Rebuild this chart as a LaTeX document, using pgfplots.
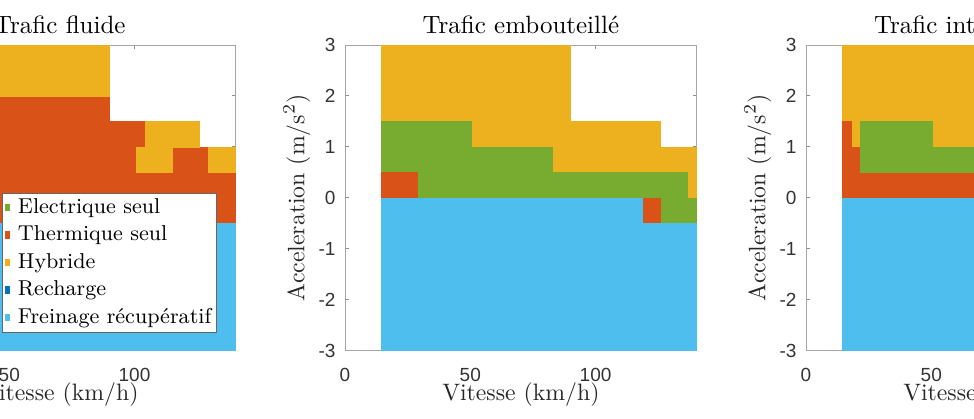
\documentclass[border=0pt]{standalone}
\usepackage{fontspec}
\newfontfamily\tickfont{Liberation Sans}
\usepackage{pgfplots}
\pgfplotsset{compat=1.18}
\definecolor{cGreen}{RGB}{119,172,48}
\definecolor{cRed}{RGB}{217,83,25}
\definecolor{cYellow}{RGB}{237,177,32}
\definecolor{cDBlue}{RGB}{0,114,189}
\definecolor{cLBlue}{RGB}{77,190,238}
\pgfplotsset{
  cell/.style={draw=#1, line width=0.2pt, fill=#1, forget plot},
  mat/.style={
    scale only axis, width=140.7pt, height=122.2pt,
    anchor=south west,
    xmin=0, xmax=140.4, ymin=-3, ymax=3,
    xtick={0,50,100}, ytick={-3,-2,-1,0,1,2,3},
    tick align=inside, major tick length=1.5pt,
    axis line style={black!35, line width=0.4pt},
    every tick/.style={black!45, line width=0.4pt},
    tick label style={font=\tickfont\fontsize{7.6}{9}\selectfont, text=black!80},
    /pgf/number format/assume math mode=true,
    xticklabel style={yshift=-3.4pt},
    yticklabel style={xshift=-0.3pt},
    every axis x label/.style={at={(axis description cs:0.5,-0.1457)}, anchor=center},
    every axis y label/.style={at={(axis description cs:-0.137,0.5)}, anchor=center, rotate=90},
    every axis title/.style={at={(axis description cs:0.5,1)}, anchor=base, yshift=4.8pt},
    label style={font=\fontsize{9.5}{11}\selectfont, text=black!85},
    title style={font=\fontsize{10}{12}\selectfont},
    xlabel={Vitesse (km/h)}, ylabel={Acceleration (m/s$^2$)},
  }
}
\begin{document}
\begin{tikzpicture}
\useasboundingbox (0pt,0pt) rectangle (389.6pt,167.2pt);
\clip (0pt,0pt) rectangle (389.6pt,167.2pt);
% ---------------- Trafic fluide ----------------
\begin{axis}[mat, at={(-46.4pt,27pt)}, title={Trafic fluide},
  legend style={at={(axis description cs:1,0)}, anchor=south east,
    xshift=-7.6pt, yshift=7pt, draw=black!60, line width=0.4pt, fill=white,
    font=\fontsize{8.6}{10}\selectfont, inner sep=1pt, row sep=1.2pt,
    nodes={inner sep=1pt, text height=6pt, text depth=1.8pt}},
  legend cell align=left,
  legend image code/.code={\fill[#1, draw=none] (0.6pt,-1.4pt) rectangle (2.8pt,1.6pt); \path (4.6pt,0pt);}]
\addplot[cell=cRed] coordinates {(14.4,-0.5) (90,-0.5) (90,2) (14.4,2)} --cycle;
\addplot[cell=cRed] coordinates {(90,-0.5) (104.4,-0.5) (104.4,1.5) (90,1.5)} --cycle;
\addplot[cell=cRed] coordinates {(104.4,-0.5) (129.6,-0.5) (129.6,1.0) (104.4,1.0)} --cycle;
\addplot[cell=cRed] coordinates {(129.6,-0.5) (140.4,-0.5) (140.4,0.5) (129.6,0.5)} --cycle;
\addplot[cell=cYellow] coordinates {(14.4,2) (90,2) (90,3) (14.4,3)} --cycle;
\addplot[cell=cYellow] coordinates {(104.4,1.0) (126,1.0) (126,1.5) (104.4,1.5)} --cycle;
\addplot[cell=cYellow] coordinates {(100.8,0.5) (115.2,0.5) (115.2,1.0) (100.8,1.0)} --cycle;
\addplot[cell=cYellow] coordinates {(129.6,0.5) (140.4,0.5) (140.4,1.0) (129.6,1.0)} --cycle;
\addplot[cell=cLBlue] coordinates {(14.4,-3) (140.4,-3) (140.4,-0.5) (14.4,-0.5)} --cycle;
\addlegendimage{fill=cGreen}
\addlegendentry{Electrique seul}
\addlegendimage{fill=cRed}
\addlegendentry{Thermique seul}
\addlegendimage{fill=cYellow}
\addlegendentry{Hybride}
\addlegendimage{fill=cDBlue}
\addlegendentry{Recharge}
\addlegendimage{fill=cLBlue}
\addlegendentry{Freinage récupératif}
\end{axis}
% ---------------- Trafic embouteille ----------------
\begin{axis}[mat, at={(138pt,27pt)}, title={Trafic embouteillé}]
\addplot[cell=cYellow] coordinates {(14.4,0) (90,0) (90,3) (14.4,3)} --cycle;
\addplot[cell=cYellow] coordinates {(90,0) (126,0) (126,1.5) (90,1.5)} --cycle;
\addplot[cell=cYellow] coordinates {(126,0) (140.4,0) (140.4,1.0) (126,1.0)} --cycle;
\addplot[cell=cGreen] coordinates {(14.4,0) (50.4,0) (50.4,1.5) (14.4,1.5)} --cycle;
\addplot[cell=cGreen] coordinates {(50.4,0) (82.8,0) (82.8,1.0) (50.4,1.0)} --cycle;
\addplot[cell=cGreen] coordinates {(82.8,0) (136.8,0) (136.8,0.5) (82.8,0.5)} --cycle;
\addplot[cell=cGreen] coordinates {(126,-0.5) (140.4,-0.5) (140.4,0) (126,0)} --cycle;
\addplot[cell=cRed] coordinates {(14.4,0) (28.8,0) (28.8,0.5) (14.4,0.5)} --cycle;
\addplot[cell=cRed] coordinates {(118.8,-0.5) (126,-0.5) (126,0) (118.8,0)} --cycle;
\addplot[cell=cLBlue] coordinates {(14.4,-3) (140.4,-3) (140.4,-0.5) (14.4,-0.5)} --cycle;
\addplot[cell=cLBlue] coordinates {(14.4,-0.5) (118.8,-0.5) (118.8,0) (14.4,0)} --cycle;
\end{axis}
% ---------------- Trafic intermediaire ----------------
\begin{axis}[mat, at={(322.4pt,27pt)}, title={Trafic intermédiaire}]
\addplot[cell=cYellow] coordinates {(14.4,0) (140.4,0) (140.4,3) (14.4,3)} --cycle;
\addplot[cell=cRed] coordinates {(14.4,0) (18,0) (18,1.5) (14.4,1.5)} --cycle;
\addplot[cell=cRed] coordinates {(18,0) (21.6,0) (21.6,1.0) (18,1.0)} --cycle;
\addplot[cell=cRed] coordinates {(21.6,0) (140.4,0) (140.4,0.5) (21.6,0.5)} --cycle;
\addplot[cell=cGreen] coordinates {(21.6,0.5) (50.4,0.5) (50.4,1.5) (21.6,1.5)} --cycle;
\addplot[cell=cGreen] coordinates {(50.4,0.5) (140.4,0.5) (140.4,1.0) (50.4,1.0)} --cycle;
\addplot[cell=cLBlue] coordinates {(14.4,-3) (140.4,-3) (140.4,0) (14.4,0)} --cycle;
\end{axis}
\end{tikzpicture}
\end{document}
